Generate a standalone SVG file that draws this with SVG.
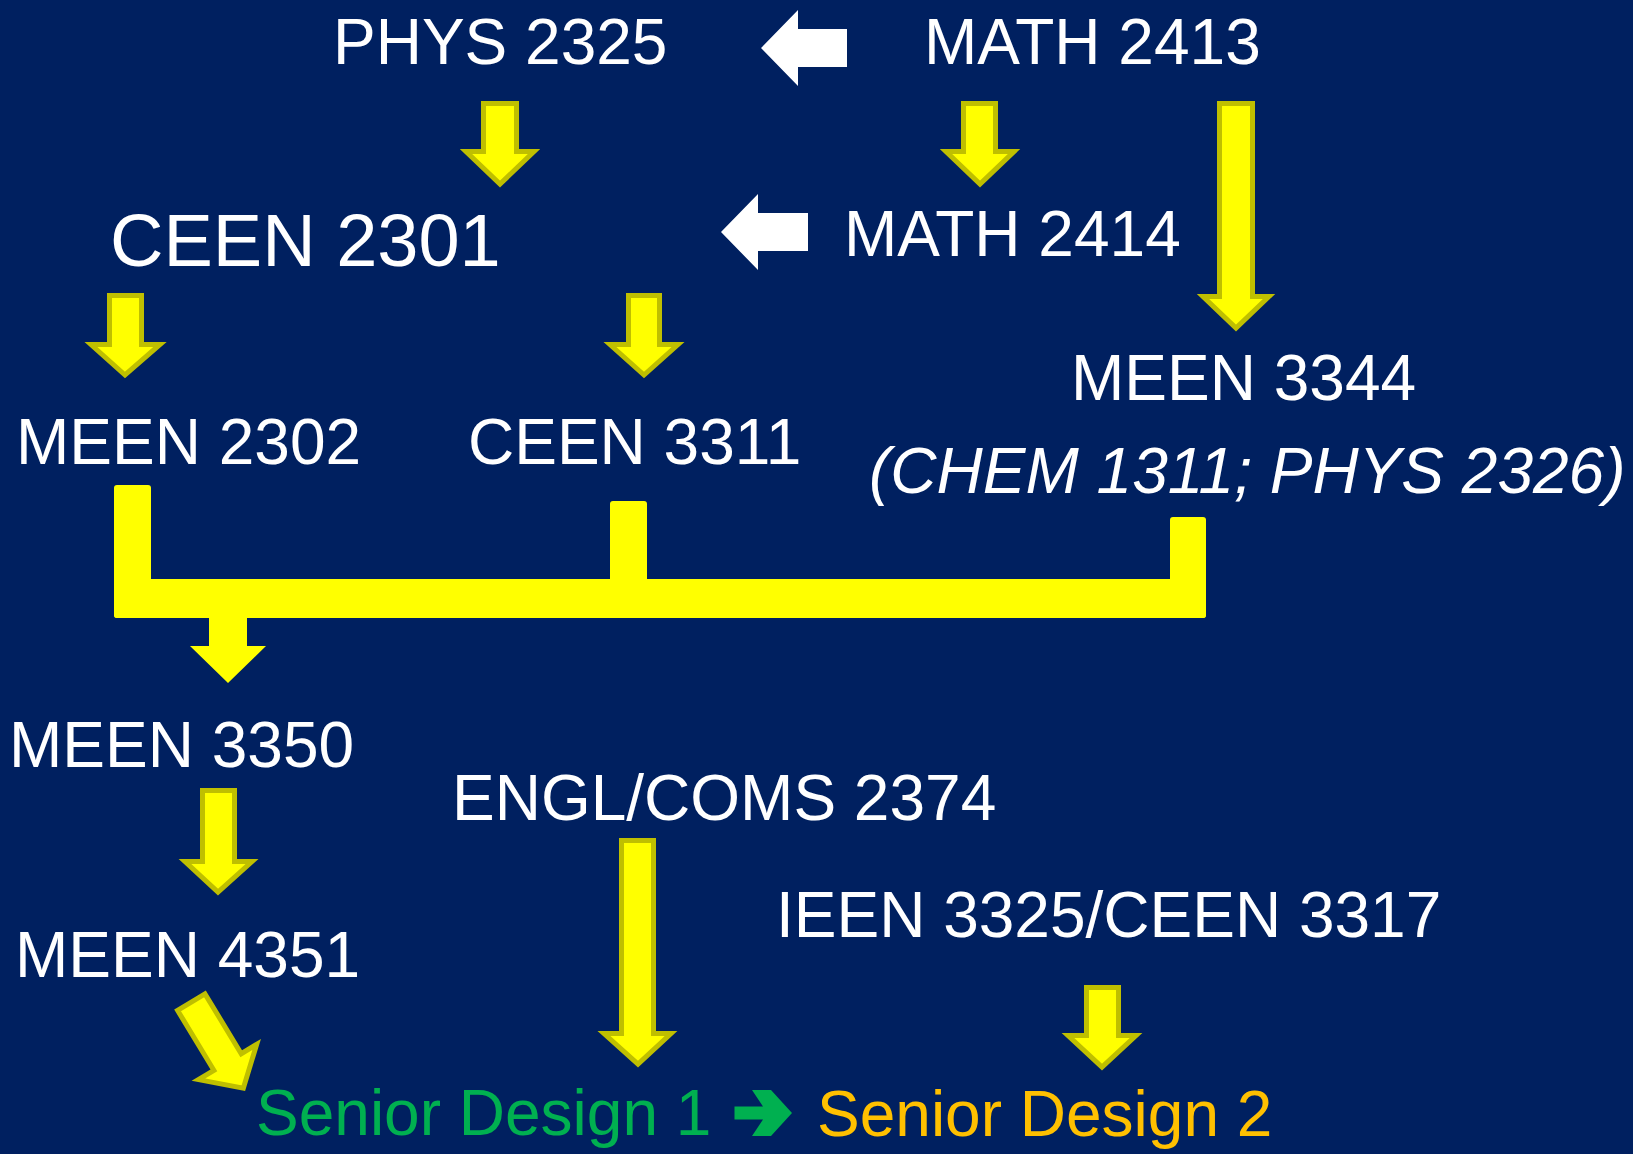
<svg xmlns="http://www.w3.org/2000/svg" width="1633" height="1154" viewBox="0 0 1633 1154">
<style>
.t{font-family:"Liberation Sans",Arial,sans-serif;font-size:64px;fill:#ffffff}
.ya{fill:#ffff00;stroke:#bfbf00;stroke-width:5;stroke-linejoin:miter}
.yf{fill:#ffff00}
.wa{fill:#ffffff}
</style>
<rect x="0" y="0" width="1633" height="1154" fill="#002060"/>
<g id="connectors">
  <polygon class="wa" points="761,48 798,10 798,29 847,29 847,67 798,67 798,86"/>
  <polygon class="wa" points="721,232 758,194 758,213 808,213 808,251 758,251 758,270"/>
  <polygon class="ya" points="483.5,103.5 516.5,103.5 516.5,151.5 534,151.5 500,184 466,151.5 483.5,151.5"/>
  <polygon class="ya" points="963.5,103.5 995.5,103.5 995.5,151.5 1014,151.5 980,184 946,151.5 963.5,151.5"/>
  <polygon class="ya" points="1219.5,103.5 1252.5,103.5 1252.5,296.5 1269,296.5 1236,328 1203,296.5 1219.5,296.5"/>
  <polygon class="ya" points="109.5,295.5 141.5,295.5 141.5,344.5 160,344.5 125,375 91,344.5 109.5,344.5"/>
  <polygon class="ya" points="628.5,295.5 659.5,295.5 659.5,344.5 678,344.5 644,375 610,344.5 628.5,344.5"/>
  <polygon class="ya" points="202.5,790.5 234.5,790.5 234.5,861.5 252,861.5 218,892 185,861.5 202.5,861.5"/>
  <polygon class="ya" points="621.5,840.5 653.5,840.5 653.5,1033.5 671,1033.5 638,1064 604,1033.5 621.5,1033.5"/>
  <polygon class="ya" points="1086.5,987.5 1118.5,987.5 1118.5,1035.5 1136,1035.5 1102,1067 1068,1035.5 1086.5,1035.5"/>
  <polygon class="ya" transform="translate(190,1000) rotate(-31.2)" points="-16,2.5 16,2.5 16,72.5 34,72.5 0,103 -34,72.5 -16,72.5"/>
  <rect class="yf" x="114" y="485" width="37" height="133" rx="3"/>
  <rect class="yf" x="610" y="501" width="37" height="117" rx="3"/>
  <rect class="yf" x="1170" y="517" width="36" height="101" rx="3"/>
  <rect class="yf" x="114" y="579" width="1092" height="39" rx="3"/>
  <polygon class="yf" points="209,616 247,616 247,646 266,646 228,683 190,646 209,646"/>
  <path fill="#00b050" d="M734.5,1106.5 L763,1106.5 L752,1090 L771,1090 L792,1113 L771,1136 L752,1136 L763,1119.5 L734.5,1119.5 Z"/>
</g>
<g id="phys2325"><text class="t" x="333" y="64">PHYS 2325</text></g>
<g id="math2413"><text class="t" x="924" y="64">MATH 2413</text></g>
<g id="ceen2301"><text class="t" x="110" y="266" style="font-size:74px">CEEN 2301</text></g>
<g id="math2414"><text class="t" x="844" y="256">MATH 2414</text></g>
<g id="meen2302"><text class="t" x="16" y="464">MEEN 2302</text></g>
<g id="ceen3311"><text class="t" x="468" y="464">CEEN 3311</text></g>
<g id="meen3344"><text class="t" x="1071" y="400">MEEN 3344</text>
  <text class="t" x="869" y="493" font-style="italic">(CHEM 1311; PHYS 2326)</text></g>
<g id="meen3350"><text class="t" x="9" y="767">MEEN 3350</text></g>
<g id="engl2374"><text class="t" x="452" y="820">ENGL/COMS 2374</text></g>
<g id="meen4351"><text class="t" x="15" y="977">MEEN 4351</text></g>
<g id="ieen3325"><text class="t" x="776" y="937">IEEN 3325/CEEN 3317</text></g>
<g id="sd1"><text class="t" x="256" y="1135" style="fill:#00b050">Senior Design 1</text></g>
<g id="sd2"><text class="t" x="817" y="1136" style="fill:#ffc000">Senior Design 2</text></g>
</svg>
